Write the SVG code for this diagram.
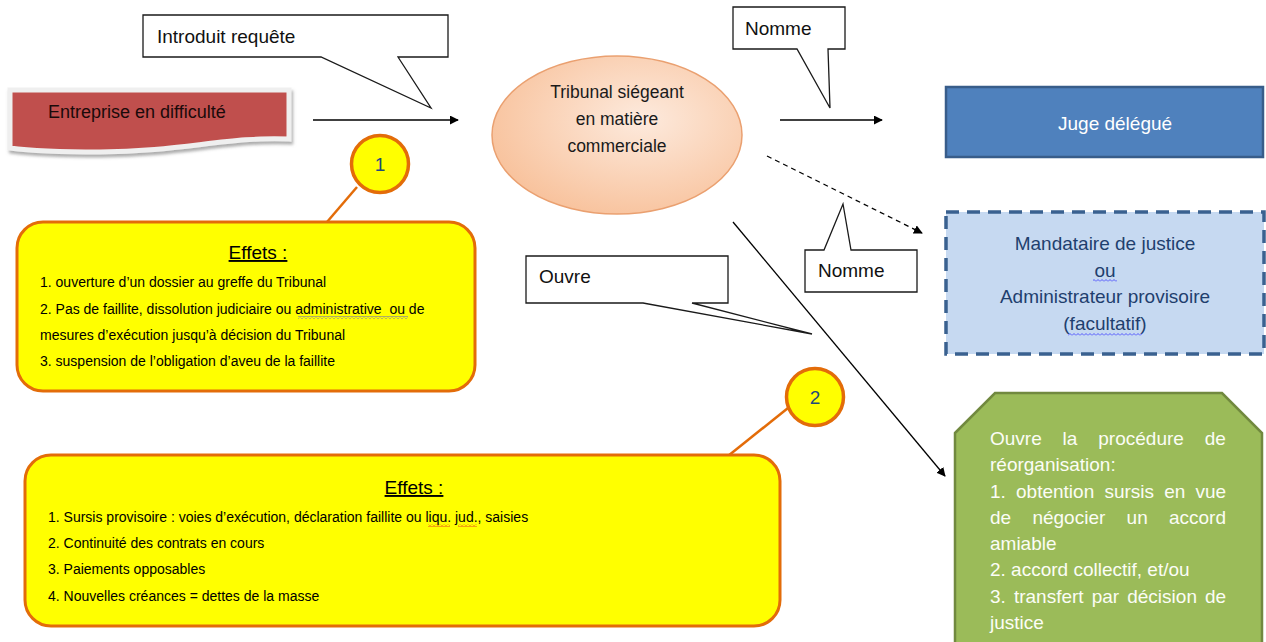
<svg xmlns="http://www.w3.org/2000/svg" width="1266" height="642" viewBox="0 0 1266 642">
<defs>
<style>
text{font-family:"Liberation Sans",Arial,sans-serif;}
.callout{fill:#fff;stroke:#1a1a1a;stroke-width:1.3;}
.ct{font-size:19px;fill:#111;}
.conn{stroke:#000;stroke-width:1.3;fill:none;}
.orange{stroke:#e36c09;stroke-width:2.5;fill:none;}
.effbox{fill:#ffff00;stroke:#e36c09;stroke-width:3;}
.circ{fill:#ffff00;stroke:#e36c09;stroke-width:3.5;}
.num{font-size:19px;fill:#1f497d;text-anchor:middle;}
.eff{font-size:19px;fill:#000;text-anchor:middle;text-decoration:underline;}
.li{font-size:14px;fill:#000;}
.gt{font-size:19px;fill:#fbfdf6;}
.mt{font-size:19px;fill:#1f3f6e;text-anchor:middle;}
</style>
<marker id="ah" viewBox="0 0 10 10" refX="9" refY="5" markerWidth="9" markerHeight="9" markerUnits="userSpaceOnUse" orient="auto">
<path d="M0,0 L10,5 L0,10 Z" fill="#000"/>
</marker>
<radialGradient id="eg" cx="0.6" cy="0.4" r="0.65">
<stop offset="0" stop-color="#fdeadd"/>
<stop offset="1" stop-color="#f8c29c"/>
</radialGradient>
<filter id="sh" x="-10%" y="-20%" width="130%" height="150%">
<feDropShadow dx="1.5" dy="3" stdDeviation="1.5" flood-color="#777" flood-opacity="0.6"/>
</filter>
<pattern id="sqb" width="4" height="3" patternUnits="userSpaceOnUse">
<path d="M0,2.5 L2,0.5 L4,2.5" fill="none" stroke="#3333ff" stroke-width="0.8"/>
</pattern>
<pattern id="sqr" width="4" height="3" patternUnits="userSpaceOnUse">
<path d="M0,2.5 L2,0.5 L4,2.5" fill="none" stroke="#e02020" stroke-width="0.8"/>
</pattern>
</defs>

<g id="connectors">
<line class="conn" x1="313" y1="120" x2="458" y2="120" marker-end="url(#ah)"/>
<line class="conn" x1="780" y1="120" x2="882" y2="120" marker-end="url(#ah)"/>
<line class="conn" x1="767" y1="156" x2="922" y2="233" stroke-dasharray="5,4" marker-end="url(#ah)"/>
<line class="conn" x1="733" y1="222" x2="945" y2="476" marker-end="url(#ah)"/>
<line class="orange" x1="357" y1="187" x2="327" y2="222"/>
<line class="orange" x1="788" y1="408" x2="728" y2="456"/>
</g>

<g id="callout-introduit">
<path class="callout" d="M143,15 H448 V57 H398 L431,108 L321,57 H143 Z"/>
<text class="ct" x="157" y="43">Introduit requête</text>
</g>

<g id="entreprise">
<path d="M10,90 H289 V139 C230,136 180,152 100,152 Q40,152 10,148 Z" fill="#c0504d" stroke="#efefef" stroke-width="5" filter="url(#sh)"/>
<text x="48" y="118" style="font-size:18px;fill:#1a0a0a">Entreprise en difficulté</text>
</g>

<g id="tribunal">
<ellipse cx="617" cy="135" rx="125" ry="79" fill="url(#eg)" stroke="#eaa070" stroke-width="1.5"/>
<text x="617" y="98" text-anchor="middle" style="font-size:17.5px;fill:#1a1a1a">Tribunal siégeant</text>
<text x="617" y="125" text-anchor="middle" style="font-size:17.5px;fill:#1a1a1a">en matière</text>
<text x="617" y="152" text-anchor="middle" style="font-size:17.5px;fill:#1a1a1a">commerciale</text>
</g>

<g id="callout-nomme-1">
<path class="callout" d="M733,7 H845 V49 H828 L830,108 L797,49 H733 Z"/>
<text class="ct" x="745" y="35">Nomme</text>
</g>

<g id="juge">
<rect x="946" y="87" width="317" height="70" fill="#4f81bd" stroke="#385d8a" stroke-width="2.5"/>
<text x="1058" y="130" style="font-size:19px;fill:#fff">Juge délégué</text>
</g>

<g id="mandataire">
<rect x="946" y="212" width="318" height="142" fill="#c6d9f1" stroke="#3a6190" stroke-width="3.5" stroke-dasharray="13,8"/>
<text class="mt" x="1105" y="250">Mandataire de justice</text>
<text class="mt" x="1105" y="277">ou</text>
<text class="mt" x="1105" y="303">Administrateur provisoire</text>
<text class="mt" x="1105" y="330">(facultatif)</text>
<rect x="1093" y="279" width="24" height="3" fill="url(#sqb)"/>
<rect x="1068" y="333" width="74" height="3" fill="url(#sqb)"/>
</g>

<g id="callout-nomme-2">
<path class="callout" d="M805,250 H824 L843,204 L851,250 H917 V292 H805 Z"/>
<text class="ct" x="818" y="277">Nomme</text>
</g>

<g id="callout-ouvre">
<path class="callout" d="M526,256 H728 V303 H692 L812,334 L643,303 H526 Z"/>
<text class="ct" x="539" y="283">Ouvre</text>
</g>

<g id="badge-1">
<circle class="circ" cx="380" cy="164" r="28.5"/>
<text class="num" x="380" y="171">1</text>
</g>

<g id="effets-1">
<rect class="effbox" x="17" y="222" width="458" height="169" rx="26"/>
<text class="eff" x="258" y="259">Effets :</text>
<text class="li" x="40" y="287">1. ouverture d’un dossier au greffe du Tribunal</text>
<text class="li" x="40" y="314">2. Pas de faillite, dissolution judiciaire ou administrative&#160; ou de</text>
<text class="li" x="40" y="340">mesures d’exécution jusqu’à décision du Tribunal</text>
<text class="li" x="40" y="366">3. suspension de l’obligation d’aveu de la faillite</text>
<rect x="298" y="316" width="110" height="3" fill="url(#sqb)"/>
</g>

<g id="badge-2">
<circle class="circ" cx="815" cy="397" r="28.5"/>
<text class="num" x="815" y="404">2</text>
</g>

<g id="effets-2">
<rect class="effbox" x="25" y="455" width="755" height="171" rx="26"/>
<text class="eff" x="414" y="494">Effets :</text>
<text class="li" x="48" y="522">1. Sursis provisoire : voies d’exécution, déclaration faillite ou liqu. jud., saisies</text>
<text class="li" x="48" y="548">2. Continuité des contrats en cours</text>
<text class="li" x="48" y="574">3. Paiements opposables</text>
<text class="li" x="48" y="601">4. Nouvelles créances = dettes de la masse</text>
<rect x="428" y="524" width="22" height="3" fill="url(#sqr)"/>
<rect x="458" y="524" width="19" height="3" fill="url(#sqr)"/>
</g>

<g id="reorganisation">
<path d="M955,433 L995,393 H1222 L1262,433 V650 H955 Z" fill="#9bbb59" stroke="#71893f" stroke-width="2.5"/>
<text class="gt" x="990" y="445" style="word-spacing:15.6px">Ouvre la procédure de</text>
<text class="gt" x="990" y="471">réorganisation:</text>
<text class="gt" x="990" y="498" style="word-spacing:4.9px">1. obtention sursis en vue</text>
<text class="gt" x="990" y="524" style="word-spacing:16px">de négocier un accord</text>
<text class="gt" x="990" y="550">amiable</text>
<text class="gt" x="990" y="576">2. accord collectif, et/ou</text>
<text class="gt" x="990" y="603" style="word-spacing:2.8px">3. transfert par décision de</text>
<text class="gt" x="990" y="629">justice</text>
</g>
</svg>
